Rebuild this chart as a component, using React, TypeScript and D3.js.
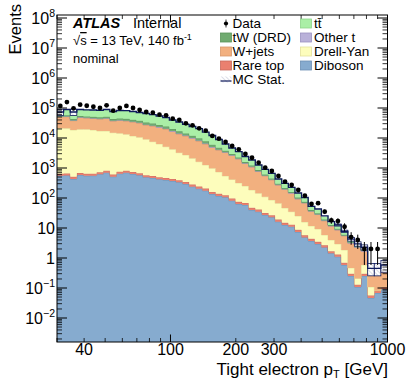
import React from 'react';
import * as d3 from 'd3';

// 50 log-spaced bins between 30 and 1000 GeV
const binLow = 30;
const binHigh = 1000;
const nBins = 50;
const binEdges = d3.range(nBins + 1).map(i => binLow * Math.pow(binHigh / binLow, i / nBins));

const dataCounts = [117000, 158000, 97700, 129000, 119000, 110000, 100000, 123000, 81300, 100000,
  117000, 100000, 85800, 73600, 69700, 59800, 57100, 44000, 39800, 30900,
  26500, 21000, 17500, 11700, 9500, 7360, 5410, 4200, 2930, 2200,
  1500, 1023, 794, 541, 349, 271, 185, 119, 63, 67,
  35, 18, 17, 11, 5, 4, 2, 2, 2, 0];

const ttbar = [19000, 32100, 30500, 34800, 34600, 34900, 34700, 37700, 32600, 37600,
  37700, 36000, 33300, 32700, 29500, 26900, 24000, 19800, 17400, 14400,
  12350, 10550, 8000, 6130, 4140, 2530, 1700, 1245, 840, 640,
  410, 294, 215, 130, 93, 67, 44, 29, 13.4, 11.8,
  6.4, 3.7, 3.15, 1.78, 0.88, 0.55, 0.47, 0.012, 0.012, 0.016];

const tW = [2900, 4900, 4650, 5300, 5300, 5350, 5300, 5800, 5000, 5700,
  5800, 5500, 5100, 5000, 4500, 4150, 3700, 3050, 2700, 2200,
  1930, 1660, 1300, 1000, 690, 430, 290, 215, 147, 115,
  76, 55, 42, 26, 19, 14, 9.3, 6.2, 3.1, 2.7,
  1.5, 0.9, 0.77, 0.44, 0.22, 0.14, 0.12, 0.005, 0.005, 0.006];

const otherT = [400, 800, 700, 800, 800, 850, 800, 900, 800, 900,
  900, 850, 800, 800, 700, 650, 550, 470, 400, 340,
  300, 250, 190, 150, 100, 60, 40, 30, 20, 15,
  10, 7, 5, 3, 2.3, 1.7, 1.1, 0.7, 0.3, 0.3,
  0.2, 0.1, 0.08, 0.04, 0.02, 0.01, 0.01, 0.001, 0.001, 0.001];

const wjets = [30250, 30300, 19270, 28700, 26900, 26220, 25900, 27600, 21870, 23950,
  23620, 22490, 21050, 18050, 17570, 16090, 14820, 12280, 10360, 8950,
  7520, 6320, 5050, 3843, 3244, 2749, 2196, 1684, 1162, 895,
  620, 440, 318, 204.5, 148.6, 109, 67.5, 52.3, 24.4, 18.9,
  11.6, 7.6, 5.65, 3.65, 2.65, 2.06, 1.10, 0.328, 0.354, 0.451];

const drellYan = [20400, 20300, 18000, 18800, 18850, 17830, 16380, 16290, 14430, 13590,
  12470, 10920, 9880, 8470, 6990, 5820, 4660, 3770, 2850, 2370,
  1820, 1380, 1054, 817, 598, 418, 318, 242, 182, 138,
  103, 78, 59, 47.4, 31.5, 22, 16.4, 10.1, 7.35, 5.8,
  3.2, 2.29, 1.63, 1.16, 0.17, 0.08, 0.29, 0.052, 0, 0];

const rareTop = [94, 97, 80, 99, 95, 93, 104, 118, 92, 110,
  116, 108, 99, 86, 80, 73, 69, 64, 58, 51,
  42, 36, 31, 24, 21, 18.5, 14.5, 11.2, 10.3, 7.1,
  6.2, 4.8, 4.0, 2.9, 2.25, 1.95, 1.32, 0.86, 0.66, 0.52,
  0.40, 0.26, 0.20, 0.105, 0.046, 0.021, 0.045, 0.010, 0.014, 0.018];

const diboson = [554, 560, 430, 585, 548, 556, 617, 697, 513, 646,
  697, 631, 571, 490, 464, 420, 398, 369, 334, 293,
  238, 204, 175, 136, 117, 105, 81.3, 63.1, 58.4, 39.8,
  34.9, 27.1, 22.7, 16.2, 12.6, 11.0, 7.36, 4.82, 3.69, 2.93,
  2.24, 1.43, 1.10, 0.585, 0.251, 0.108, 0.251, 0.0464, 0.068, 0.0926];

const mcStatErr = [17000, 1800, 17000, 1700, 1600, 1500, 1400, 1500, 1300, 1300,
  1200, 1100, 1000, 900, 800, 700, 600, 500, 430, 360,
  300, 250, 200, 160, 120, 90, 70, 55, 40, 32,
  24, 18, 14, 10, 8, 6.5, 5, 4, 2.6, 2.3,
  1.6, 1.2, 1.0, 0.7, 0.6, 0.5, 0.45, 0.2, 0.2, 0.25];

const xTickLabels = [40, 100, 200, 300, 1000];
const xMajorTicks = [100, 1000];
const xMinorTicks = [30, 40, 50, 60, 70, 80, 90, 200, 300, 400, 500, 600, 700, 800, 900];
const yTickExps = [-2, -1, 0, 1, 2, 3, 4, 5, 6, 7, 8];

const legendCol1 = ['Data', 'tW (DRD)', 'W+jets', 'Rare top', 'MC Stat.'];
const legendCol2 = ['t\u0074\u0304', 'Other t', 'Drell-Yan', 'Diboson'];

// stack, bottom to top
const layers = [
  { name: 'Diboson', values: diboson, fill: '#86abcf', line: '#6d90b3' },
  { name: 'Rare top', values: rareTop, fill: '#ea806f', line: '#c96a5c' },
  { name: 'Drell-Yan', values: drellYan, fill: '#fdfdbc', line: '#e4e19c' },
  { name: 'W+jets', values: wjets, fill: '#f2b07f', line: '#d9986a' },
  { name: 'Other t', values: otherT, fill: '#b9b1d9', line: '#9b92c0' },
  { name: 'tW (DRD)', values: tW, fill: '#70ab70', line: '#5b955b' },
  { name: 't\u0074\u0304', values: ttbar, fill: '#aaefa6', line: '#8ed58b' },
];

const FONT = "'Liberation Sans', Arial, Helvetica, sans-serif";
const NAVY = '#0e1a5c';

export default function App() {
  const width = 408;
  const height = 381;
  const mL = 57, mR = 387.5, mT = 15, mB = 342;

  const x = d3.scaleLog().domain([binLow, binHigh]).range([mL, mR]);
  const y = d3.scaleLog().domain([Math.pow(10, -2.8), Math.pow(10, 8.1)]).range([mB, mT]).clamp(true);
  const yv = (v: number) => y(Math.max(v, 1e-5));

  let running: number[] = new Array(nBins).fill(0);
  const bands = layers.map(l => {
    const lo = running;
    const hi = lo.map((v, i) => v + l.values[i]);
    running = hi;
    return { ...l, lo, hi };
  });
  const total = running;

  const stepArea = d3.area<number[]>().x(d => x(d[0])).y0(d => yv(d[1])).y1(d => yv(d[2]));
  const stepLine = d3.line<number[]>().x(d => x(d[0])).y(d => yv(d[1]));
  const areaPts = (lo: number[], hi: number[]) =>
    lo.flatMap((v, i) => [[binEdges[i], v, hi[i]], [binEdges[i + 1], v, hi[i]]]);
  const linePts = (vals: number[]) =>
    vals.flatMap((v, i) => [[binEdges[i], v], [binEdges[i + 1], v]]);

  const yMinor: number[] = [];
  for (let e = -3; e <= 8; e++) {
    for (let m = 2; m <= 9; m++) {
      const v = m * Math.pow(10, e);
      if (v > y.domain()[0] && v < y.domain()[1]) yMinor.push(v);
    }
  }

  const legendFill = (name: string) => layers.find(l => l.name === name);
  const rowY = (i: number) => 23.5 + i * 14;

  return (
    <svg width={width} height={height} style={{ position: 'absolute', left: 0, top: 0, background: '#fff' }}
      fontFamily={FONT}>
      <defs>
        <clipPath id="plotClip">
          <rect x={mL} y={mT} width={mR - mL} height={mB - mT} />
        </clipPath>
        <pattern id="hatch" patternUnits="userSpaceOnUse" width={3} height={3} patternTransform="rotate(-45)">
          <line x1={0} y1={0} x2={0} y2={3} stroke={NAVY} strokeWidth={0.5} strokeOpacity={0.6} />
        </pattern>
      </defs>

      <g clipPath="url(#plotClip)">
        {bands.map(b => (
          <g key={b.name}>
            <path d={stepArea(areaPts(b.lo, b.hi)) || ''} fill={b.fill} stroke="none" />
            <path d={stepLine(linePts(b.hi)) || ''} fill="none" stroke={b.line} strokeWidth={0.9} />
          </g>
        ))}

        {/* MC stat band */}
        {total.map((t, i) => {
          const y0 = yv(t + mcStatErr[i]);
          const y1 = yv(t - mcStatErr[i]);
          const x0 = x(binEdges[i]);
          const x1 = x(binEdges[i + 1]);
          const big = y1 - y0 > 2;
          return (
            <g key={'err' + i}>
              <rect x={x0} y={y0} width={x1 - x0} height={y1 - y0} fill="#fff" />
              <rect x={x0} y={y0} width={x1 - x0} height={y1 - y0} fill="url(#hatch)"
                stroke={big ? NAVY : 'none'} strokeWidth={0.8} />
            </g>
          );
        })}

        <path d={stepLine(linePts(total)) || ''} fill="none" stroke={NAVY} strokeWidth={1.3} />

        {/* data */}
        {dataCounts.map((n, i) => {
          if (n <= 0) return null;
          const cx = x(Math.sqrt(binEdges[i] * binEdges[i + 1]));
          const e = Math.sqrt(n);
          return (
            <g key={'d' + i}>
              <line x1={cx} x2={cx} y1={yv(n + e)} y2={yv(n - e)} stroke="#000" strokeWidth={1} />
              <circle cx={cx} cy={yv(n)} r={2.4} fill="#000" />
            </g>
          );
        })}
      </g>

      {/* frame */}
      <rect x={mL} y={mT} width={mR - mL} height={mB - mT} fill="none" stroke="#000" strokeWidth={1} />

      {/* y ticks */}
      {yTickExps.map(e => {
        const ty = y(Math.pow(10, e));
        return (
          <g key={'ym' + e}>
            <line x1={mL} x2={mL + 10} y1={ty} y2={ty} stroke="#000" />
            <line x1={mR - 10} x2={mR} y1={ty} y2={ty} stroke="#000" />
          </g>
        );
      })}
      {yMinor.map((v, i) => {
        const ty = y(v);
        return (
          <g key={'yn' + i}>
            <line x1={mL} x2={mL + 5} y1={ty} y2={ty} stroke="#000" strokeWidth={0.8} />
            <line x1={mR - 5} x2={mR} y1={ty} y2={ty} stroke="#000" strokeWidth={0.8} />
          </g>
        );
      })}
      {yTickExps.map(e => {
        const ty = y(Math.pow(10, e)) + 5.5;
        if (e === 0 || e === 1) {
          return <text key={'yl' + e} x={55} y={ty} textAnchor="end" fontSize={16}>{e === 0 ? '1' : '10'}</text>;
        }
        return (
          <text key={'yl' + e} x={55} y={ty} textAnchor="end" fontSize={16}>
            10<tspan dy={-6.5} fontSize={10.5}>{e < 0 ? '\u2212' + (-e) : String(e)}</tspan>
          </text>
        );
      })}

      {/* x ticks */}
      {xMajorTicks.map(v => (
        <g key={'xm' + v}>
          <line x1={x(v)} x2={x(v)} y1={mB} y2={mB - 7.5} stroke="#000" />
          <line x1={x(v)} x2={x(v)} y1={mT} y2={mT + 7.5} stroke="#000" />
        </g>
      ))}
      {xMinorTicks.map(v => (
        <g key={'xn' + v}>
          <line x1={x(v)} x2={x(v)} y1={mB} y2={mB - 4} stroke="#000" strokeWidth={0.8} />
          <line x1={x(v)} x2={x(v)} y1={mT} y2={mT + 4} stroke="#000" strokeWidth={0.8} />
        </g>
      ))}
      {xTickLabels.map(v => (
        <text key={'xl' + v} x={x(v)} y={355} textAnchor="middle" fontSize={16}>{v}</text>
      ))}

      {/* axis titles */}
      <text x={388} y={374.5} textAnchor="end" fontSize={17}>
        Tight electron p<tspan dy={3.5} fontSize={11}>T</tspan><tspan dy={-3.5}> [GeV]</tspan>
      </text>
      <text transform="translate(20.5,4) rotate(-90)" textAnchor="end" fontSize={16.5}>Events</text>

      {/* labels */}
      <text x={73} y={27.5} fontSize={14.5} fontWeight="bold" fontStyle="italic">ATLAS</text>
      <text x={133} y={27.5} fontSize={14.5}>Internal</text>
      <text x={73} y={45} fontSize={13}>
        √<tspan textDecoration="overline">s</tspan> = 13 TeV, 140 fb<tspan dy={-5} fontSize={9}>-1</tspan>
      </text>
      <text x={73} y={63} fontSize={13}>nominal</text>

      {/* legend */}
      {legendCol1.map((name, i) => {
        const cy = rowY(i);
        let icon: React.ReactNode = null;
        if (name === 'Data') {
          icon = (
            <g>
              <line x1={226} x2={226} y1={cy - 4} y2={cy + 4} stroke="#000" strokeWidth={0.8} />
              <circle cx={226} cy={cy} r={2.1} fill="#000" />
            </g>
          );
        } else if (name === 'MC Stat.') {
          icon = (
            <g>
              <rect x={220.5} y={cy - 3} width={11} height={6} fill="url(#hatch)" />
              <line x1={220.5} x2={231.5} y1={cy + 1.5} y2={cy + 1.5} stroke={NAVY} strokeWidth={1.2} />
            </g>
          );
        } else {
          const l = legendFill(name)!;
          icon = <rect x={220.5} y={cy - 4.5} width={11} height={9} fill={l.fill} stroke={l.line} strokeWidth={0.8} />;
        }
        return (
          <g key={'lg1' + i}>
            {icon}
            <text x={232.5} y={cy + 4.8} fontSize={13.5}>{name}</text>
          </g>
        );
      })}
      {legendCol2.map((name, i) => {
        const cy = rowY(i);
        const l = legendFill(name)!;
        return (
          <g key={'lg2' + i}>
            <rect x={300.5} y={cy - 4.5} width={11} height={9} fill={l.fill} stroke={l.line} strokeWidth={0.8} />
            <text x={314} y={cy + 4.8} fontSize={13.5}>{name}</text>
          </g>
        );
      })}
    </svg>
  );
}
